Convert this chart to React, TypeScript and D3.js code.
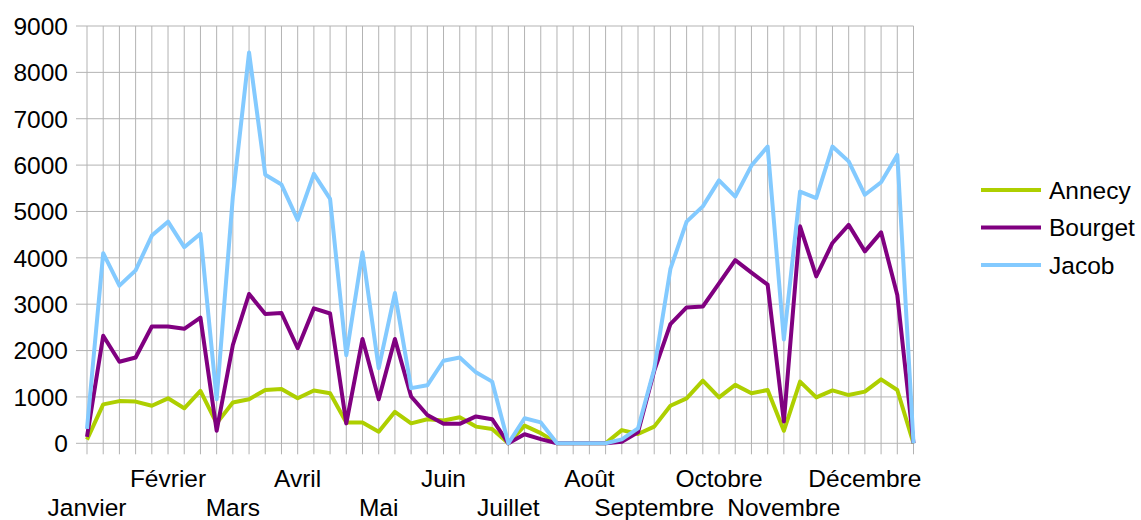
import React, { useEffect, useRef } from 'react';
import * as d3 from 'd3';

const categories = [
  'Janvier', '', '', '', '', 'Février', '', '', '', 'Mars', '', '', '', 'Avril', '', '', '', '',
  'Mai', '', '', '', 'Juin', '', '', '', 'Juillet', '', '', '', '', 'Août', '', '', '',
  'Septembre', '', '', '', 'Octobre', '', '', '', 'Novembre', '', '', '', '', 'Décembre', '', '', '',
];

const annecy = [
  80, 840, 910, 900, 810, 970, 755, 1130, 430, 880, 950, 1150, 1170, 970, 1140, 1080, 450, 450,
  250, 680, 430, 520, 490, 560, 360, 310, 0, 380, 220, 0, 0, 0, 0, 285, 200, 360, 810, 970,
  1350, 990, 1260, 1080, 1150, 270, 1330, 990, 1140, 1040, 1115, 1380, 1150, 0,
];

const bourget = [
  140, 2320, 1760, 1850, 2520, 2520, 2470, 2710, 270, 2120, 3220, 2790, 2810, 2050, 2910, 2800,
  430, 2250, 950, 2250, 1010, 610, 420, 420, 580, 520, 0, 195, 90, 0, 0, 0, 0, 35, 240, 1560,
  2570, 2930, 2950, 3450, 3950, 3680, 3420, 470, 4680, 3600, 4320, 4710, 4140, 4550, 3200, 0,
];

const jacob = [
  310, 4100, 3400, 3730, 4480, 4780, 4230, 4520, 950, 5320, 8430, 5790, 5580, 4820, 5810, 5270,
  1900, 4120, 1620, 3240, 1190, 1250, 1780, 1850, 1530, 1330, 0, 540, 450, 0, 0, 0, 0, 85, 320,
  1600, 3760, 4780, 5110, 5670, 5320, 5990, 6400, 2240, 5430, 5290, 6400, 6080, 5360, 5630,
  6220, 0,
];

const yTicks = [0, 1000, 2000, 3000, 4000, 5000, 6000, 7000, 8000, 9000];

const series = [
  { name: 'Annecy', values: annecy, color: '#aecf00' },
  { name: 'Bourget', values: bourget, color: '#800080' },
  { name: 'Jacob', values: jacob, color: '#83caff' },
];

function Chart() {
  const ref = useRef(null);

  useEffect(() => {
    const svg = d3.select(ref.current);
    svg.selectAll('*').remove();

    const width = 1141;
    const height = 520;
    const margin = { top: 26, right: 227.5, bottom: 76.7, left: 87 };
    const font = '"Liberation Sans", Arial, sans-serif';
    const grid = '#b3b3b3';

    const x = d3
      .scalePoint()
      .domain(d3.range(categories.length))
      .range([margin.left, width - margin.right]);

    const y = d3
      .scaleLinear()
      .domain([0, 9000])
      .range([height - margin.bottom, margin.top]);

    svg.attr('width', width).attr('height', height);

    // horizontal grid + y ticks
    svg
      .append('g')
      .selectAll('line')
      .data(yTicks)
      .join('line')
      .attr('x1', margin.left - 11)
      .attr('x2', width - margin.right)
      .attr('y1', (d) => y(d))
      .attr('y2', (d) => y(d))
      .attr('stroke', grid)
      .attr('stroke-width', 1);

    // vertical grid + x ticks
    svg
      .append('g')
      .selectAll('line')
      .data(d3.range(categories.length))
      .join('line')
      .attr('x1', (d) => x(d))
      .attr('x2', (d) => x(d))
      .attr('y1', margin.top)
      .attr('y2', y(0) + 11)
      .attr('stroke', grid)
      .attr('stroke-width', 1);

    svg
      .append('g')
      .selectAll('text')
      .data(yTicks)
      .join('text')
      .attr('x', margin.left - 19)
      .attr('y', (d) => y(d))
      .attr('dy', '0.36em')
      .attr('text-anchor', 'end')
      .attr('font-family', font)
      .attr('font-size', 24.5)
      .attr('fill', '#000')
      .text((d) => d);

    const labeled = categories
      .map((c, i) => ({ c, i }))
      .filter((d) => d.c !== '');

    svg
      .append('g')
      .selectAll('text')
      .data(labeled)
      .join('text')
      .attr('x', (d) => x(d.i))
      .attr('y', (d, k) => (k % 2 === 0 ? 516 : 487))
      .attr('text-anchor', 'middle')
      .attr('font-family', font)
      .attr('font-size', 24.5)
      .attr('fill', '#000')
      .text((d) => d.c);

    const line = d3
      .line()
      .x((d, i) => x(i))
      .y((d) => y(d));

    svg
      .append('g')
      .selectAll('path')
      .data(series)
      .join('path')
      .attr('d', (d) => line(d.values))
      .attr('fill', 'none')
      .attr('stroke', (d) => d.color)
      .attr('stroke-width', 4)
      .attr('stroke-linejoin', 'round');

    const legend = svg
      .append('g')
      .selectAll('g')
      .data(series)
      .join('g')
      .attr('transform', (d, i) => `translate(981,${190 + i * 37.5})`);

    legend
      .append('line')
      .attr('x1', 0)
      .attr('x2', 60)
      .attr('stroke', (d) => d.color)
      .attr('stroke-width', 4);

    legend
      .append('text')
      .attr('x', 68)
      .attr('dy', '0.36em')
      .attr('font-family', font)
      .attr('font-size', 24.5)
      .attr('fill', '#000')
      .text((d) => d.name);
  }, []);

  return <svg ref={ref} style={{ position: 'absolute', left: 0, top: 0 }}></svg>;
}

export default function App() {
  return <Chart />;
}
